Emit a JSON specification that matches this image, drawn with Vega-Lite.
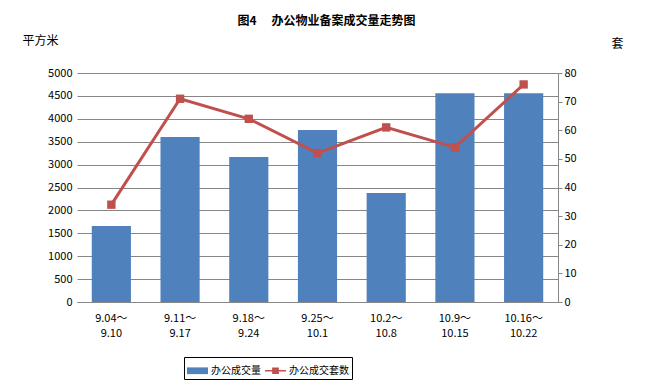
{
  "$schema": "https://vega.github.io/schema/vega-lite/v6.json",
  "autosize": {"type": "none"},
  "width": 481,
  "height": 229,
  "padding": {"left": 77, "top": 73, "right": 94, "bottom": 85},
  "background": "white",
  "title": {
    "text": "图4　 办公物业备案成交量走势图",
    "font": "Noto Sans CJK SC",
    "fontSize": 12,
    "fontWeight": "bold",
    "color": "black",
    "anchor": "middle",
    "dx": 9,
    "offset": 6
  },
  "config": {
    "font": "Noto Sans CJK SC",
    "view": {"stroke": null},
    "axis": {"labelFont": "Noto Sans CJK SC", "labelFontSize": 11, "labelColor": "black", "titleFont": "Noto Sans CJK SC", "titleFontWeight": "normal", "titleFontSize": 12, "titleColor": "black"}
  },
  "data": {
    "values": [
      {"period": "9.04～9.10", "area": 1660, "units": 34},
      {"period": "9.11～9.17", "area": 3600, "units": 71},
      {"period": "9.18～9.24", "area": 3165, "units": 64},
      {"period": "9.25～10.1", "area": 3755, "units": 52},
      {"period": "10.2～10.8", "area": 2380, "units": 61},
      {"period": "10.9～10.15", "area": 4560, "units": 54},
      {"period": "10.16～10.22", "area": 4560, "units": 76}
    ]
  },
  "encoding": {
    "x": {
      "field": "period",
      "type": "nominal",
      "sort": null,
      "scale": {"paddingInner": 0.43, "paddingOuter": 0.215},
      "axis": {
        "title": null,
        "labelAngle": 0,
        "labelExpr": "[split(datum.value,'～')[0] + '～', split(datum.value,'～')[1]]",
        "labelLineHeight": 15,
        "labelPadding": 10,
        "labelBaseline": "top",
        "ticks": false,
        "domainColor": "#868686",
        "domainWidth": 1
      }
    }
  },
  "layer": [
    {
      "mark": {"type": "bar"},
      "encoding": {
        "y": {
          "field": "area",
          "type": "quantitative",
          "scale": {"domain": [0, 5000], "nice": false},
          "axis": {
            "values": [0, 500, 1000, 1500, 2000, 2500, 3000, 3500, 4000, 4500, 5000],
            "format": "d",
            "grid": true,
            "gridColor": "#868686",
            "gridWidth": 1,
            "domain": false,
            "ticks": false,
            "labelPadding": 5,
            "title": "平方米",
            "titleAngle": 0,
            "titleAlign": "left",
            "titleBaseline": "middle",
            "titleX": -55,
            "titleY": -33
          }
        },
        "color": {
          "datum": "办公成交量",
          "type": "nominal",
          "scale": {"domain": ["办公成交量", "办公成交套数"], "range": ["#4F81BD", "#C0504D"]},
          "legend": {
            "title": null,
            "orient": "none",
            "direction": "horizontal",
            "legendX": 107,
            "legendY": 284,
            "strokeColor": "black",
            "padding": 3,
            "symbolSize": 441,
            "symbolStrokeWidth": 0,
            "columnPadding": 4,
            "labelOffset": 3,
            "labelFontSize": 10,
            "labelColor": "black",
            "labelFont": "Noto Sans CJK SC",
            "encode": {
              "symbols": {
                "update": {
                  "shape": {"signal": "datum.value === '办公成交量' ? 'M-1,-0.32H1V0.32H-1Z' : 'M-1,-0.07H-0.32V-0.32H0.32V-0.07H1V0.07H0.32V0.32H-0.32V0.07H-1Z'"},
                  "fill": {"signal": "datum.value === '办公成交量' ? '#4F81BD' : '#C0504D'"},
                  "strokeWidth": {"value": 0},
                  "opacity": {"value": 1},
                  "fillOpacity": {"value": 1}
                }
              }
            }
          }
        }
      }
    },
    {
      "mark": {"type": "line", "strokeWidth": 3, "point": {"shape": "square", "size": 70, "filled": true}},
      "encoding": {
        "y": {
          "field": "units",
          "type": "quantitative",
          "scale": {"domain": [0, 80], "nice": false},
          "axis": {
            "orient": "right",
            "values": [0, 10, 20, 30, 40, 50, 60, 70, 80],
            "grid": false,
            "domainColor": "#868686",
            "tickColor": "#868686",
            "tickSize": 4,
            "labelPadding": 2,
            "title": "套",
            "titleAngle": 0,
            "titleAlign": "left",
            "titleBaseline": "middle",
            "titleX": 53,
            "titleY": -30
          }
        },
        "color": {"datum": "办公成交套数", "type": "nominal"}
      }
    }
  ],
  "resolve": {"scale": {"y": "independent"}}
}
